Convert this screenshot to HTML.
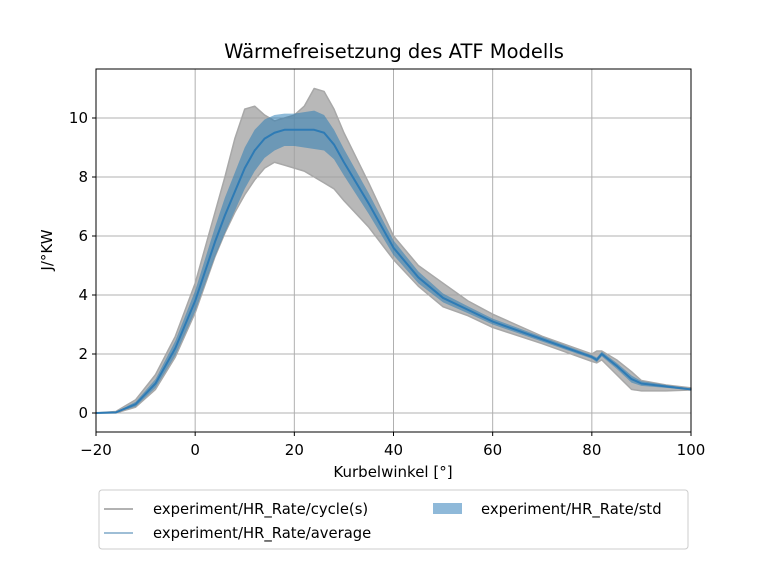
<!DOCTYPE html>
<html><head><meta charset="utf-8"><style>
body{margin:0;background:#fff;font-family:"Liberation Sans","DejaVu Sans",sans-serif}
</style></head><body>
<svg id="chart" width="768" height="576" xmlns="http://www.w3.org/2000/svg" font-family="DejaVu Sans, Liberation Sans, sans-serif">
<rect width="768" height="576" fill="#fff"/>
<text x="394" y="58" font-size="19.5" text-anchor="middle">Wärmefreisetzung des ATF Modells</text>
<g id="grid"></g>
<g id="series"></g>
<rect x="96" y="69" width="595" height="363" fill="none" stroke="#000" stroke-width="1"/>
<g id="ticks"></g>
<text x="393" y="477" font-size="15" text-anchor="middle">Kurbelwinkel [°]</text>
<text transform="translate(52,250) rotate(-90)" font-size="15" text-anchor="middle">J/°KW</text>
<g>
<rect x="99" y="490" width="589" height="59" rx="3" fill="#fff" stroke="#ccc"/>
<line x1="104" y1="509" x2="133" y2="509" stroke="#999" stroke-width="1.5"/>
<text x="153" y="514" font-size="14.8">experiment/HR_Rate/cycle(s)</text>
<line x1="104" y1="533" x2="133" y2="533" stroke="#7fa9c9" stroke-width="1.5"/>
<text x="153" y="538" font-size="14.8">experiment/HR_Rate/average</text>
<rect x="433" y="503" width="29" height="11" fill="#8fb9d9"/>
<text x="481" y="514" font-size="14.8">experiment/HR_Rate/std</text>
</g>
</svg>
<script>
const xs    =[-20,-16,-12,-8,-4,0,4,6,8,10,12,14,16,18,20,22,24,26,28,30,35,40,45,50,55,60,70,80,81,82,85,88,90,95,100];
const avg   =[0,0.02,0.3,1.0,2.2,3.8,5.8,6.7,7.5,8.3,8.9,9.3,9.5,9.6,9.6,9.6,9.6,9.5,9.1,8.5,7.1,5.6,4.6,3.9,3.5,3.1,2.5,1.9,1.8,2.0,1.6,1.15,1.0,0.9,0.8];
const upper =[0,0.05,0.45,1.3,2.6,4.4,6.8,8.0,9.3,10.3,10.4,10.1,9.9,10.0,10.1,10.4,11.0,10.9,10.3,9.5,7.8,6.0,5.0,4.4,3.8,3.35,2.6,2.0,2.1,2.1,1.8,1.4,1.1,0.95,0.85];
const lower =[0,0,0.2,0.8,1.9,3.4,5.3,6.1,6.8,7.4,7.9,8.3,8.5,8.4,8.3,8.2,8.0,7.8,7.6,7.2,6.3,5.2,4.3,3.6,3.3,2.9,2.35,1.75,1.7,1.8,1.3,0.8,0.75,0.75,0.78];
const stdv  =[0,0.01,0.08,0.15,0.25,0.35,0.5,0.6,0.65,0.7,0.7,0.65,0.6,0.55,0.55,0.6,0.65,0.6,0.5,0.45,0.35,0.25,0.2,0.15,0.12,0.1,0.08,0.06,0.08,0.08,0.1,0.12,0.08,0.05,0.03];
const xTicks=[-20,0,20,40,60,80,100];
const yTicks=[0,2,4,6,8,10];
const X=v=>96+(v+20)/120*595;
const Y=v=>413-v*29.5;
const NS="http://www.w3.org/2000/svg";
const grid=document.getElementById('grid'),ticks=document.getElementById('ticks'),ser=document.getElementById('series');
function mk(tag,attrs,parent){const e=document.createElementNS(NS,tag);for(const k in attrs)e.setAttribute(k,attrs[k]);parent.appendChild(e);return e;}
xTicks.forEach(t=>{
 const g=mk('line',{x1:X(t),x2:X(t),y1:69,y2:432,stroke:'#b0b0b0','stroke-width':1},grid);
 
 
 mk('line',{x1:X(t),x2:X(t),y1:432,y2:436,stroke:'#000'},ticks);
 const l=mk('text',{x:X(t),y:455,'font-size':15,'text-anchor':'middle'},ticks);
 l.textContent=t<0?'\u2212'+(-t):t;
 
 
});
yTicks.forEach(t=>{
 const g=mk('line',{x1:96,x2:691,y1:Y(t),y2:Y(t),stroke:'#b0b0b0','stroke-width':1},grid);
 
 
 mk('line',{x1:92,x2:96,y1:Y(t),y2:Y(t),stroke:'#000'},ticks);
 const l=mk('text',{x:88,y:Y(t)+5,'font-size':15,'text-anchor':'end'},ticks);
 l.textContent=t;
 
 
});
function band(lo,hi){let d='M'+xs.map((x,i)=>X(x)+','+Y(hi[i])).join('L');
 for(let i=xs.length-1;i>=0;i--)d+='L'+X(xs[i])+','+Y(lo[i]);return d+'Z';}
const cyc=mk('path',{d:band(lower,upper),fill:'#a0a0a0','fill-opacity':0.75,stroke:'#a8a8a8','stroke-width':1.5,'stroke-linejoin':'round'},ser);


const sl=avg.map((v,i)=>v-stdv[i]),su=avg.map((v,i)=>v+stdv[i]);
const sd=mk('path',{d:band(sl,su),fill:'#1f77b4','fill-opacity':0.5},ser);


const al=mk('path',{d:'M'+xs.map((x,i)=>X(x)+','+Y(avg[i])).join('L'),fill:'none',stroke:'#2e7bb5','stroke-width':2,'stroke-linejoin':'round'},ser);


</script>
</body></html>
